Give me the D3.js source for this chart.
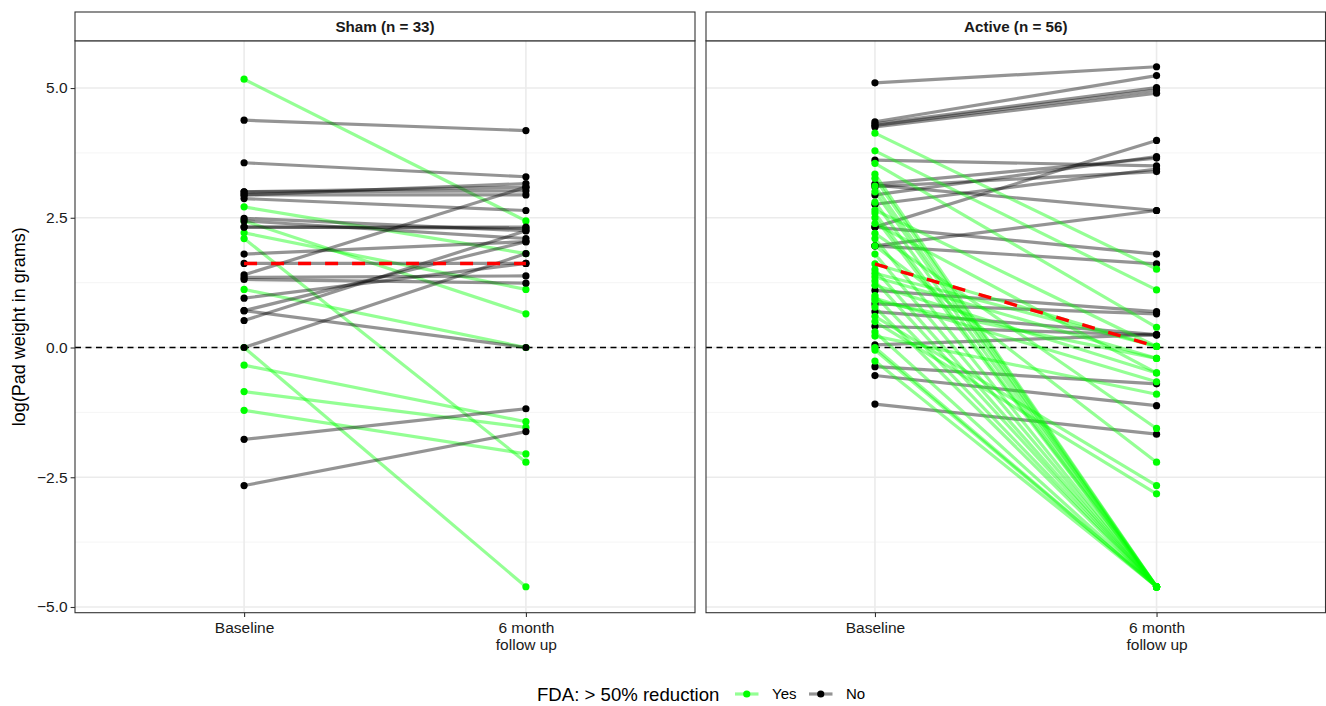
<!DOCTYPE html>
<html>
<head>
<meta charset="utf-8">
<script src="https://cdn.jsdelivr.net/npm/d3@7"></script>
<style>
  body { margin: 0; background: #ffffff; }
  svg { display: block; font-family: "Liberation Sans", Arial, Helvetica, sans-serif; }
</style>
</head>
<body>
<svg id="chart" width="1326" height="706"></svg>
<script>
// ---------------- DATA ----------------
const facetLabels = ["Sham (n = 33)", "Active (n = 56)"];
const timepoints = ["Baseline", "6 month\nfollow up"];
const groups = ["Yes", "No"];
const yTicks = [-5, -2.5, 0, 2.5, 5];
const yMinorTicks = [-3.75, -1.25, 1.25, 3.75];
const legendTitle = "FDA: > 50% reduction";
const yTitle = "log(Pad weight in grams)";

// Sham: baseline / follow-up log pad weights and responder status
const shamBaseline = [5.17, 2.71, 2.44, 2.21, 2.10, 1.12, 0.00, -0.34, -0.85, -1.21,
  4.38, 3.56, 3.00, 3.00, 2.94, 2.94, 2.87, 2.49, 2.44, 2.32, 2.32, 1.80, 1.62, 1.40,
  1.35, 1.31, 0.95, 0.71, 0.71, 0.52, 0.00, -1.77, -2.66];
const shamFollowup = [2.44, 1.81, 0.65, 1.12, -2.21, 0.00, -4.61, -1.43, -1.54, -2.05,
  4.18, 3.29, 3.09, 3.02, 2.94, 3.16, 2.64, 2.25, 2.10, 2.32, 2.30, 2.04, 1.62, 3.09,
  1.38, 1.24, 1.62, 2.04, 0.00, 2.25, 1.81, -1.18, -1.62];
const shamResponder = ["Yes","Yes","Yes","Yes","Yes","Yes","Yes","Yes","Yes","Yes",
  "No","No","No","No","No","No","No","No","No","No","No","No","No","No",
  "No","No","No","No","No","No","No","No","No"];

// Active
const activeBaseline = [5.10, 4.35, 4.31, 4.28, 4.25, 3.61, 3.15, 3.13, 3.10, 2.94, 2.76,
  2.32, 2.32, 1.96, 1.96, 1.10, 0.84, 0.69, 0.41, 0.05, -0.37, -0.54, -1.09,
  4.13, 3.79, 3.55, 2.65, 1.61, 1.43, 1.36, 0.90, 2.39, 1.20, 0.95, 0.22, 2.20, 1.96, 0.60, 0.50,
  3.34, 3.26, 3.11, 3.00, 2.80, 2.59, 2.50, 2.10, 1.80, 1.50, 1.28, 1.00, 0.78, 0.30, 0.00, -0.05, -0.26];
const activeFollowup = [5.41, 5.24, 5.01, 4.96, 4.90, 3.50, 3.65, 2.64, 3.39, 3.68, 3.44,
  3.99, 1.80, 1.61, 2.64, 0.69, 0.65, 0.25, 0.24, 0.25, -0.70, -1.12, -1.67,
  1.51, 1.11, 0.39, 0.02, 0.02, 0.02, -0.21, -0.21, -0.49, -0.49, -0.66, -0.90, -1.56, -2.21, -2.66, -2.82,
  -4.61, -4.61, -4.61, -4.61, -4.61, -4.61, -4.61, -4.61, -4.61, -4.61, -4.61, -4.61, -4.61, -4.61, -4.61, -4.61, -4.61];
const activeResponder = ["No","No","No","No","No","No","No","No","No","No","No",
  "No","No","No","No","No","No","No","No","No","No","No","No",
  "Yes","Yes","Yes","Yes","Yes","Yes","Yes","Yes","Yes","Yes","Yes","Yes","Yes","Yes","Yes","Yes",
  "Yes","Yes","Yes","Yes","Yes","Yes","Yes","Yes","Yes","Yes","Yes","Yes","Yes","Yes","Yes","Yes","Yes"];

// group summary line (red dashed), per facet: [baseline, follow-up]
const shamSummary = [1.62, 1.62];
const activeSummary = [1.61, 0.02];

// ---------------- CHART ----------------
const svg = d3.select("#chart");
const panelTop = 40.8, panelBottom = 612.7, stripTop = 12;
const panels = [{ x0: 75, x1: 695 }, { x0: 706, x1: 1325.5 }];
const y = d3.scaleLinear().domain([-5.11, 5.91]).range([panelBottom, panelTop]);
const color = d3.scaleOrdinal().domain(groups).range(["#00ff00", "#000000"]);
const fmt = d3.format(".1f");
const axisFont = 15.5;

const facets = [
  { label: facetLabels[0], base: shamBaseline, follow: shamFollowup, resp: shamResponder, summary: shamSummary },
  { label: facetLabels[1], base: activeBaseline, follow: activeFollowup, resp: activeResponder, summary: activeSummary }
];

facets.forEach((fc, i) => {
  const p = panels[i];
  const x = d3.scalePoint().domain(timepoints).range([p.x0, p.x1]).padding(0.6);
  const g = svg.append("g");

  g.append("rect").attr("x", p.x0).attr("y", panelTop).attr("width", p.x1 - p.x0)
    .attr("height", panelBottom - panelTop).attr("fill", "#ffffff");

  // grid
  g.selectAll(".minor").data(yMinorTicks).join("line")
    .attr("x1", p.x0).attr("x2", p.x1).attr("y1", d => y(d)).attr("y2", d => y(d))
    .attr("stroke", "#f2f2f2").attr("stroke-width", 0.8);
  g.selectAll(".major").data(yTicks).join("line")
    .attr("x1", p.x0).attr("x2", p.x1).attr("y1", d => y(d)).attr("y2", d => y(d))
    .attr("stroke", "#ebebeb").attr("stroke-width", 1.6);
  g.selectAll(".vmajor").data(timepoints).join("line")
    .attr("x1", d => x(d)).attr("x2", d => x(d)).attr("y1", panelTop).attr("y2", panelBottom)
    .attr("stroke", "#ebebeb").attr("stroke-width", 1.6);

  // zero reference line
  g.append("line").attr("x1", p.x0).attr("x2", p.x1).attr("y1", y(0)).attr("y2", y(0))
    .attr("stroke", "#000").attr("stroke-width", 1.6).attr("stroke-dasharray", "6,4.5");

  const pairs = fc.base.map((b, j) => ({ b, f: fc.follow[j], r: fc.resp[j] }));
  const line = d3.line().x(d => x(d.t)).y(d => y(d.v));

  g.selectAll(".pair").data(pairs).join("path")
    .attr("d", d => line([{ t: timepoints[0], v: d.b }, { t: timepoints[1], v: d.f }]))
    .attr("fill", "none")
    .attr("stroke", d => color(d.r))
    .attr("stroke-opacity", 0.42)
    .attr("stroke-width", 3.2)
    .attr("stroke-linecap", "butt");

  const pts = pairs.flatMap(d => [{ t: timepoints[0], v: d.b, r: d.r }, { t: timepoints[1], v: d.f, r: d.r }]);
  g.selectAll(".pt").data(pts).join("circle")
    .attr("cx", d => x(d.t)).attr("cy", d => y(d.v)).attr("r", 3.6)
    .attr("fill", d => color(d.r));

  // summary line
  g.append("path")
    .attr("d", line([{ t: timepoints[0], v: fc.summary[0] }, { t: timepoints[1], v: fc.summary[1] }]))
    .attr("fill", "none").attr("stroke", "#ff0000").attr("stroke-width", 3.4)
    .attr("stroke-dasharray", "13,14");

  // panel border
  g.append("rect").attr("x", p.x0).attr("y", panelTop).attr("width", p.x1 - p.x0)
    .attr("height", panelBottom - panelTop).attr("fill", "none").attr("stroke", "#333333").attr("stroke-width", 1.1);

  // strip
  g.append("rect").attr("x", p.x0).attr("y", stripTop).attr("width", p.x1 - p.x0)
    .attr("height", panelTop - stripTop).attr("fill", "#ffffff").attr("stroke", "#333333").attr("stroke-width", 1.1);
  g.append("text").attr("x", (p.x0 + p.x1) / 2).attr("y", (stripTop + panelTop) / 2 + 5.3)
    .attr("text-anchor", "middle").attr("font-size", 15.2).attr("font-weight", "bold")
    .attr("fill", "#1a1a1a").text(fc.label);

  // x axis
  const xAxis = g.append("g").attr("transform", `translate(0,${panelBottom})`)
    .call(d3.axisBottom(x).tickSize(4.4).tickSizeOuter(0).tickPadding(5));
  xAxis.select(".domain").remove();
  xAxis.selectAll(".tick line").attr("stroke", "#333333").attr("stroke-width", 1.1);
  xAxis.selectAll(".tick text").each(function (d) {
    const t = d3.select(this);
    t.text(null).attr("font-size", axisFont).attr("fill", "#1a1a1a")
      .attr("font-family", "Liberation Sans, Arial, sans-serif");
    d.split("\n").forEach((s, k) => {
      t.append("tspan").attr("x", 0).attr("dy", k === 0 ? "0.71em" : "1.08em").text(s);
    });
  });

  // y axis on first panel
  if (i === 0) {
    const yAxis = g.append("g").attr("transform", `translate(${p.x0},0)`)
      .call(d3.axisLeft(y).tickValues(yTicks).tickFormat(fmt).tickSize(4.4).tickPadding(3));
    yAxis.select(".domain").remove();
    yAxis.selectAll(".tick line").attr("stroke", "#333333").attr("stroke-width", 1.1);
    yAxis.selectAll(".tick text").attr("font-size", axisFont).attr("fill", "#1a1a1a")
      .attr("font-family", "Liberation Sans, Arial, sans-serif");
  }
});

// y title
svg.append("text")
  .attr("transform", `translate(25,${(panelTop + panelBottom) / 2}) rotate(-90)`)
  .attr("text-anchor", "middle").attr("font-size", 18).attr("fill", "#000").text(yTitle);

// legend
const legend = svg.append("g").attr("transform", "translate(0,694)");
legend.append("text").attr("x", 537).attr("y", 6.8).attr("font-size", 18.6).attr("fill", "#000").text(legendTitle);
const keyX = d3.scaleOrdinal().domain(groups).range([735, 809]);
const keys = legend.selectAll(".key").data(groups).join("g")
  .attr("transform", d => `translate(${keyX(d)},0)`);
keys.append("line").attr("x1", 0).attr("x2", 23.5).attr("y1", 0).attr("y2", 0)
  .attr("stroke", d => color(d)).attr("stroke-opacity", 0.42).attr("stroke-width", 3.2);
keys.append("circle").attr("cx", 11.75).attr("cy", 0).attr("r", 3.6).attr("fill", d => color(d));
keys.append("text").attr("x", 37).attr("y", 5.4).attr("font-size", 15).attr("fill", "#000").text(d => d);
</script>
</body>
</html>
